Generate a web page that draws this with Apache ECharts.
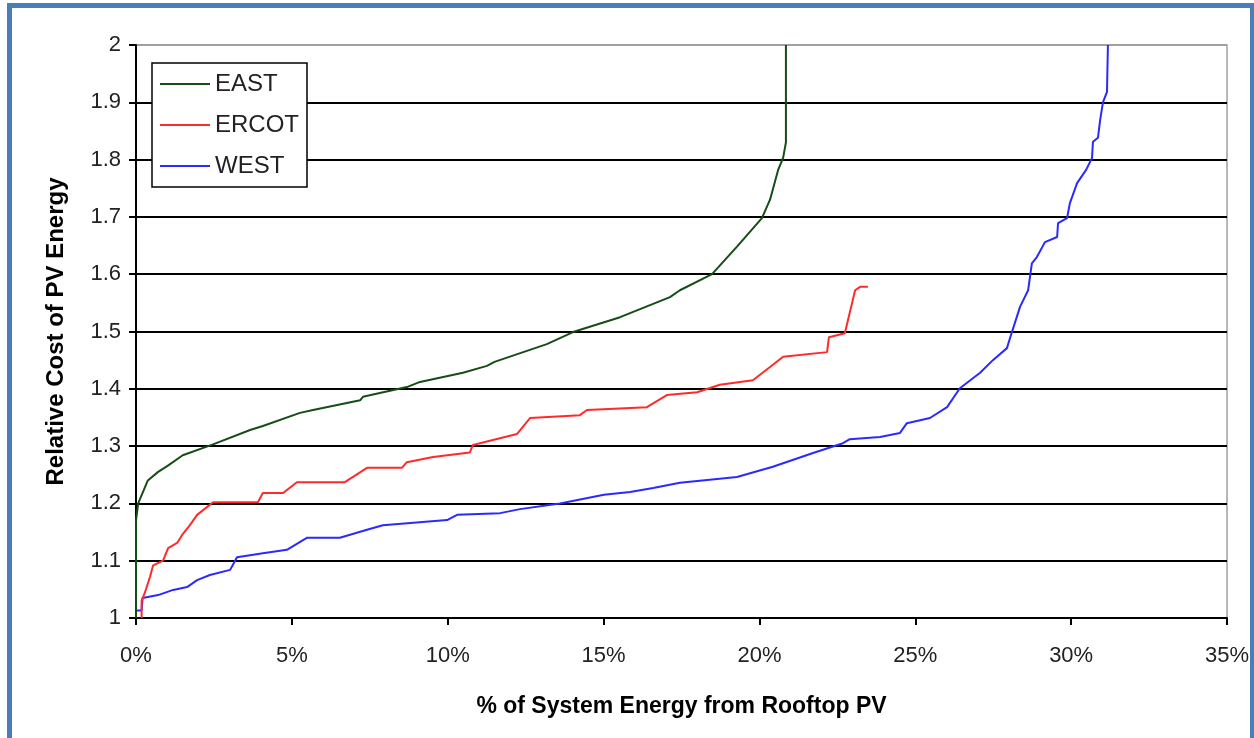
<!DOCTYPE html>
<html>
<head>
<meta charset="utf-8">
<script src="https://cdn.jsdelivr.net/npm/echarts@6/dist/echarts.min.js"></script>
<style>
html,body{margin:0;padding:0;background:#fff;}
#wrap{position:relative;width:1254px;height:738px;overflow:hidden;background:#fff;}
#frame{position:absolute;left:7px;top:3px;width:1238px;height:760px;border-left:5px solid #4a7ebb;border-top:5px solid #4a7ebb;border-right:5px solid #4a7ebb;pointer-events:none;}
#chart{position:absolute;left:0;top:0;width:1254px;height:738px;}
</style>
</head>
<body>
<div id="wrap"><div id="chart"></div><div id="frame"></div></div>
<script>
const seriesNames = ['EAST', 'ERCOT', 'WEST'];
const xTicks = [0, 5, 10, 15, 20, 25, 30, 35];
const yTicks = [1, 1.1, 1.2, 1.3, 1.4, 1.5, 1.6, 1.7, 1.8, 1.9, 2];

const eastX = [0, 0, 0.07, 0.38, 0.71, 1.0, 1.5, 2.47, 3.66, 4.07, 5.26, 5.68, 7.19, 7.28, 8.69, 9.11, 10.49, 11.26, 11.5, 13.18, 14.02, 15.53, 15.85, 17.13, 17.45, 18.48, 19.28, 20.08, 20.34, 20.6, 20.76, 20.85, 20.85];
const eastY = [1.0, 1.17, 1.2, 1.24, 1.255, 1.265, 1.284, 1.303, 1.328, 1.335, 1.358, 1.363, 1.38, 1.386, 1.403, 1.412, 1.428, 1.44, 1.447, 1.478, 1.499, 1.525, 1.532, 1.56, 1.572, 1.6, 1.648, 1.698, 1.73, 1.782, 1.803, 1.83, 2.0];

const ercotX = [0.18, 0.18, 0.29, 0.45, 0.55, 0.87, 1.03, 1.32, 1.48, 1.73, 1.96, 2.47, 3.91, 4.07, 4.72, 5.16, 6.7, 7.41, 8.53, 8.69, 9.53, 10.71, 10.81, 12.22, 12.64, 14.24, 14.47, 16.39, 17.03, 18.0, 18.73, 19.79, 20.34, 20.76, 22.17, 22.23, 22.74, 23.07, 23.23, 23.48];
const ercotY = [1.0, 1.03, 1.045, 1.072, 1.092, 1.1, 1.122, 1.131, 1.145, 1.162, 1.18, 1.202, 1.202, 1.218, 1.218, 1.237, 1.237, 1.262, 1.262, 1.272, 1.281, 1.289, 1.302, 1.321, 1.349, 1.354, 1.363, 1.368, 1.389, 1.394, 1.407, 1.415, 1.438, 1.456, 1.464, 1.49, 1.497, 1.572, 1.578, 1.578];

const westX = [0, 0, 0.18, 0.21, 0.71, 1.19, 1.64, 1.96, 2.37, 3.02, 3.24, 4.07, 4.84, 5.48, 6.54, 7.41, 7.92, 9.98, 10.3, 11.68, 12.32, 13.6, 15.01, 15.85, 16.59, 17.45, 19.28, 20.43, 21.72, 22.68, 22.9, 23.87, 24.51, 24.73, 25.47, 26.02, 26.43, 27.08, 27.49, 27.94, 28.1, 28.36, 28.62, 28.74, 28.9, 29.16, 29.55, 29.58, 29.87, 29.96, 30.19, 30.48, 30.67, 30.7, 30.86, 30.93, 31.02, 31.15, 31.18];
const westY = [1.0, 1.013, 1.013, 1.035, 1.04, 1.049, 1.054, 1.066, 1.075, 1.084, 1.106, 1.113, 1.119, 1.14, 1.14, 1.154, 1.162, 1.171, 1.18, 1.183, 1.19, 1.2, 1.215, 1.22, 1.227, 1.236, 1.246, 1.264, 1.288, 1.305, 1.312, 1.316, 1.323, 1.34, 1.349, 1.368, 1.401, 1.428, 1.45, 1.471, 1.499, 1.543, 1.572, 1.619, 1.63, 1.656, 1.665, 1.689, 1.698, 1.724, 1.759, 1.782, 1.803, 1.831, 1.838, 1.869, 1.9, 1.918, 2.0];

const colors = ['#164d16', '#ff2a2a', '#2a2aff'];

function pairs(xs, ys) { return xs.map((x, i) => [x, ys[i]]); }
const allData = [pairs(eastX, eastY), pairs(ercotX, ercotY), pairs(westX, westY)];

const chart = echarts.init(document.getElementById('chart'), null, {renderer: 'canvas'});
const font = '"Liberation Sans", Arial, sans-serif';
const gridColors = yTicks.map((v, i) => i === yTicks.length - 1 ? '#a0a0a0' : '#000');

chart.setOption({
  animation: false,
  backgroundColor: '#fff',
  color: colors,
  textStyle: {fontFamily: font},
  grid: {left: 136, right: 27, top: 45, bottom: 120, show: true, borderColor: '#a0a0a0', borderWidth: 1.5, backgroundColor: 'transparent'},
  legend: {
    orient: 'vertical', left: 152, top: 63,
    data: seriesNames,
    icon: 'rect', itemWidth: 50, itemHeight: 2, itemGap: 17,
    padding: [9, 8, 9, 8],
    borderColor: '#000', borderWidth: 1.5, backgroundColor: '#fff',
    textStyle: {fontFamily: font, fontSize: 24, color: '#222'}
  },
  xAxis: {
    type: 'value', min: xTicks[0], max: xTicks[xTicks.length - 1], interval: 5,
    name: '% of System Energy from Rooftop PV', nameLocation: 'middle', nameGap: 77,
    nameTextStyle: {fontFamily: font, fontSize: 23, fontWeight: 'bold', color: '#000'},
    axisLine: {show: true, lineStyle: {color: '#000', width: 2}},
    axisTick: {show: true, length: 7, lineStyle: {color: '#000', width: 2}},
    axisLabel: {formatter: '{value}%', fontSize: 22, color: '#222', margin: 27, fontFamily: font},
    splitLine: {show: false}
  },
  yAxis: {
    type: 'value', min: yTicks[0], max: yTicks[yTicks.length - 1], interval: 0.1,
    name: 'Relative Cost of PV Energy', nameLocation: 'middle', nameGap: 68, nameRotate: 90,
    nameTextStyle: {fontFamily: font, fontSize: 24, fontWeight: 'bold', color: '#000'},
    axisLine: {show: true, lineStyle: {color: '#000', width: 2}},
    axisTick: {show: true, length: 7, lineStyle: {color: '#000', width: 2}},
    axisLabel: {fontSize: 22, color: '#222', margin: 15, fontFamily: font,
      formatter: v => (Math.round(v * 10) / 10).toString()},
    splitLine: {show: true, lineStyle: {color: gridColors, width: 2}}
  },
  series: seriesNames.map((n, i) => ({
    name: n, type: 'line', data: allData[i], showSymbol: false, symbol: 'none',
    lineStyle: {color: colors[i], width: 2}, itemStyle: {color: colors[i]},
    z: 3 + (2 - i)
  }))
});
</script>
</body>
</html>
